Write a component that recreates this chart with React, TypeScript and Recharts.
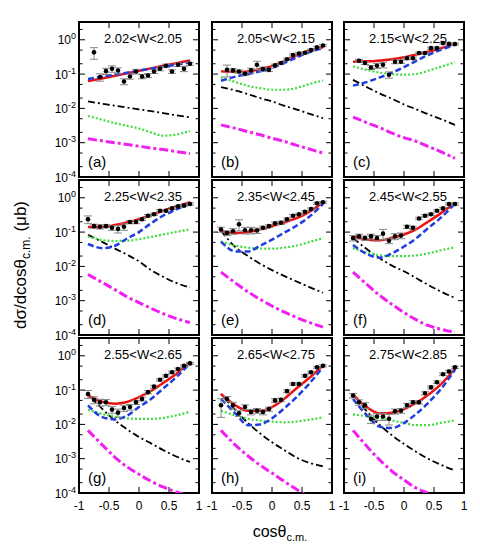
import React from 'react';
import { ComposedChart, Line, Scatter, ErrorBar, XAxis, YAxis, ReferenceArea } from 'recharts';

// ---------- shared axis values ----------
const curveX = [-0.85, -0.6, -0.4, -0.2, 0, 0.2, 0.4, 0.6, 0.85];
const pointX17 = [-0.75, -0.65, -0.55, -0.45, -0.35, -0.25, -0.15, -0.05, 0.05, 0.15, 0.25, 0.35, 0.45, 0.55, 0.65, 0.75, 0.85];
const pointX18 = [-0.85, -0.75, -0.65, -0.55, -0.45, -0.35, -0.25, -0.15, -0.05, 0.05, 0.15, 0.25, 0.35, 0.45, 0.55, 0.65, 0.75, 0.85];
const xTicks = [-1, -0.5, 0, 0.5, 1];
const xTickLabels = ['-1', '-0.5', '0', '0.5', '1'];
const yTicks = [1e-4, 2e-4, 5e-4, 1e-3, 2e-3, 5e-3, 1e-2, 2e-2, 5e-2, 0.1, 0.2, 0.5, 1, 2];
const yMajorExp = ['-4', '-3', '-2', '-1', '0'];
const wRanges = ['2.02<W<2.05', '2.05<W<2.15', '2.15<W<2.25', '2.25<W<2.35', '2.35<W<2.45', '2.45<W<2.55', '2.55<W<2.65', '2.65<W<2.75', '2.75<W<2.85'];
const panelLetters = ['(a)', '(b)', '(c)', '(d)', '(e)', '(f)', '(g)', '(h)', '(i)'];

// ---------- panel (a) ----------
const redA = [0.062, 0.076, 0.09, 0.106, 0.125, 0.147, 0.174, 0.205, 0.25];
const blueA = [0.072, 0.085, 0.097, 0.11, 0.126, 0.143, 0.162, 0.186, 0.22];
const greenA = [0.006, 0.0046, 0.0037, 0.0031, 0.0026, 0.002, 0.0016, 0.0017, 0.0022];
const blackA = [0.016, 0.0136, 0.012, 0.0106, 0.0093, 0.0083, 0.0073, 0.0064, 0.0055];
const magentaA = [0.0013, 0.00112, 0.001, 0.00089, 0.00079, 0.0007, 0.00063, 0.00056, 0.00048];
const dataA = [0.43, 0.082, 0.122, 0.143, 0.127, 0.061, 0.085, 0.119, 0.085, 0.091, 0.119, 0.143, 0.175, 0.119, 0.187, 0.143, 0.2];
const errA = [0.16, 0.02, 0.025, 0.03, 0.025, 0.012, 0.014, 0.018, 0.012, 0.012, 0.015, 0.018, 0.02, 0.014, 0.02, 0.025, 0.02];

// ---------- panel (b) ----------
const redB = [0.12, 0.115, 0.12, 0.14, 0.17, 0.24, 0.34, 0.47, 0.6];
const blueB = [0.064, 0.085, 0.1, 0.12, 0.15, 0.21, 0.3, 0.42, 0.57];
const greenB = [0.082, 0.058, 0.045, 0.039, 0.035, 0.035, 0.039, 0.05, 0.065];
const blackB = [0.042, 0.033, 0.026, 0.02, 0.016, 0.012, 0.0094, 0.0072, 0.0052];
const magentaB = [0.0033, 0.0026, 0.0021, 0.0017, 0.00135, 0.0011, 0.00085, 0.00067, 0.0005];
const dataB = [0.133, 0.128, 0.119, 0.102, 0.128, 0.187, 0.14, 0.133, 0.18, 0.21, 0.27, 0.36, 0.4, 0.42, 0.5, 0.6, 0.68];
const errB = [0.05, 0.015, 0.012, 0.012, 0.02, 0.05, 0.02, 0.015, 0.015, 0.015, 0.02, 0.025, 0.03, 0.03, 0.035, 0.04, 0.05];

// ---------- panel (c) ----------
const redC = [0.23, 0.235, 0.25, 0.27, 0.31, 0.37, 0.45, 0.56, 0.75];
const blueC = [0.046, 0.06, 0.08, 0.11, 0.16, 0.24, 0.36, 0.5, 0.71];
const greenC = [0.167, 0.13, 0.11, 0.1, 0.096, 0.1, 0.125, 0.16, 0.22];
const blackC = [0.068, 0.04, 0.027, 0.019, 0.013, 0.0095, 0.0068, 0.005, 0.0033];
const magentaC = [0.0056, 0.0037, 0.0027, 0.0019, 0.0014, 0.0011, 0.00078, 0.00056, 0.00035];
const dataC = [0.244, 0.21, 0.156, 0.175, 0.187, 0.096, 0.23, 0.23, 0.29, 0.29, 0.41, 0.41, 0.57, 0.57, 0.8, 0.76, 0.75];
const errC = [0.025, 0.02, 0.02, 0.03, 0.035, 0.02, 0.03, 0.025, 0.025, 0.025, 0.03, 0.03, 0.04, 0.04, 0.05, 0.05, 0.05];

// ---------- panel (d) ----------
const redD = [0.14, 0.14, 0.16, 0.19, 0.24, 0.31, 0.42, 0.54, 0.75];
const blueD = [0.045, 0.034, 0.04, 0.065, 0.1, 0.18, 0.3, 0.44, 0.68];
const greenD = [0.075, 0.058, 0.055, 0.056, 0.062, 0.072, 0.085, 0.1, 0.12];
const blackD = [0.084, 0.05, 0.033, 0.022, 0.014, 0.0078, 0.005, 0.0034, 0.0024];
const magentaD = [0.0058, 0.0033, 0.0021, 0.0013, 0.00088, 0.0006, 0.00042, 0.00031, 0.00023];
const dataD = [0.236, 0.149, 0.143, 0.149, 0.133, 0.124, 0.143, 0.196, 0.196, 0.236, 0.3, 0.33, 0.42, 0.42, 0.49, 0.56, 0.59, 0.66];
const errD = [0.06, 0.02, 0.02, 0.015, 0.02, 0.03, 0.03, 0.02, 0.02, 0.02, 0.025, 0.025, 0.03, 0.03, 0.035, 0.04, 0.04, 0.05];

// ---------- panel (e) ----------
const redE = [0.105, 0.094, 0.1, 0.12, 0.15, 0.19, 0.25, 0.37, 0.74];
const blueE = [0.053, 0.027, 0.027, 0.04, 0.06, 0.095, 0.15, 0.26, 0.66];
const greenE = [0.053, 0.04, 0.035, 0.033, 0.033, 0.035, 0.04, 0.05, 0.067];
const blackE = [0.11, 0.035, 0.02, 0.012, 0.0078, 0.0053, 0.0037, 0.0026, 0.0017];
const magentaE = [0.0068, 0.0032, 0.0018, 0.0011, 0.0007, 0.00047, 0.00033, 0.00024, 0.00017];
const dataE = [0.119, 0.094, 0.106, 0.168, 0.113, 0.113, 0.111, 0.133, 0.149, 0.18, 0.188, 0.236, 0.3, 0.33, 0.39, 0.47, 0.69, 0.74];
const errE = [0.02, 0.015, 0.02, 0.06, 0.025, 0.025, 0.02, 0.015, 0.015, 0.015, 0.02, 0.02, 0.025, 0.025, 0.03, 0.035, 0.05, 0.05];

// ---------- panel (f) ----------
const redF = [0.075, 0.06, 0.058, 0.068, 0.085, 0.12, 0.2, 0.34, 0.7];
const blueF = [0.042, 0.022, 0.018, 0.024, 0.038, 0.065, 0.13, 0.25, 0.68];
const greenF = [0.034, 0.025, 0.021, 0.02, 0.02, 0.021, 0.024, 0.029, 0.036];
const blackF = [0.067, 0.03, 0.017, 0.0105, 0.0072, 0.0046, 0.0029, 0.0019, 0.0012];
const magentaF = [0.0068, 0.0028, 0.0014, 0.00078, 0.00045, 0.00028, 0.00019, 0.00015, 0.00012];
const dataF = [0.067, 0.075, 0.067, 0.075, 0.067, 0.09, 0.056, 0.075, 0.079, 0.143, 0.133, 0.25, 0.3, 0.33, 0.42, 0.49, 0.66, 0.66];
const errF = [0.012, 0.012, 0.01, 0.012, 0.012, 0.03, 0.01, 0.015, 0.015, 0.015, 0.015, 0.02, 0.025, 0.025, 0.03, 0.035, 0.05, 0.05];

// ---------- panel (g) ----------
const redG = [0.069, 0.045, 0.04, 0.045, 0.062, 0.095, 0.16, 0.28, 0.66];
const blueG = [0.036, 0.016, 0.014, 0.018, 0.032, 0.055, 0.11, 0.22, 0.6];
const greenG = [0.027, 0.02, 0.017, 0.015, 0.0145, 0.0145, 0.0155, 0.018, 0.023];
const blackG = [0.078, 0.027, 0.013, 0.0072, 0.0043, 0.0028, 0.0018, 0.0012, 0.0008];
const magentaG = [0.0067, 0.0024, 0.0011, 0.00058, 0.00035, 0.00022, 0.00015, 0.00011, 0.00008];
const dataG = [0.077, 0.052, 0.044, 0.044, 0.027, 0.022, 0.03, 0.032, 0.044, 0.055, 0.087, 0.126, 0.2, 0.26, 0.33, 0.41, 0.51, 0.6];
const errG = [0.02, 0.012, 0.01, 0.009, 0.006, 0.006, 0.006, 0.006, 0.006, 0.007, 0.009, 0.012, 0.015, 0.02, 0.025, 0.03, 0.035, 0.04];

// ---------- panel (h) ----------
const redH = [0.077, 0.035, 0.025, 0.025, 0.032, 0.055, 0.11, 0.21, 0.52];
const blueH = [0.055, 0.02, 0.0095, 0.01, 0.015, 0.029, 0.06, 0.14, 0.47];
const greenH = [0.025, 0.018, 0.0145, 0.013, 0.012, 0.0115, 0.012, 0.0135, 0.016];
const blackH = [0.077, 0.025, 0.011, 0.0055, 0.003, 0.0018, 0.0011, 0.00078, 0.0006];
const magentaH = [0.0067, 0.0024, 0.0012, 0.00065, 0.00038, 0.00022, 0.00013, 0.00008, 0.00005];
const dataH = [0.036, 0.055, 0.036, 0.021, 0.032, 0.023, 0.025, 0.023, 0.028, 0.05, 0.052, 0.093, 0.15, 0.15, 0.26, 0.33, 0.46, 0.51];
const errH = [0.02, 0.01, 0.008, 0.004, 0.005, 0.004, 0.004, 0.004, 0.004, 0.006, 0.006, 0.009, 0.012, 0.012, 0.02, 0.025, 0.03, 0.035];

// ---------- panel (i) ----------
const redI = [0.074, 0.03, 0.021, 0.022, 0.028, 0.042, 0.072, 0.14, 0.42];
const blueI = [0.055, 0.017, 0.0085, 0.0078, 0.011, 0.02, 0.042, 0.1, 0.39];
const greenI = [0.0195, 0.017, 0.015, 0.013, 0.011, 0.0095, 0.0095, 0.011, 0.013];
const blackI = [0.077, 0.022, 0.0095, 0.0048, 0.0027, 0.0016, 0.001, 0.00068, 0.00045];
const magentaI = [0.0067, 0.0021, 0.0009, 0.00043, 0.00024, 0.00014, 0.0001, 0.00007, 0.00005];
const dataI = [0.069, 0.044, 0.036, 0.0146, 0.017, 0.017, 0.0146, 0.024, 0.025, 0.036, 0.044, 0.044, 0.081, 0.12, 0.17, 0.29, 0.35, 0.46];
const errI = [0.01, 0.008, 0.007, 0.004, 0.004, 0.004, 0.005, 0.004, 0.004, 0.005, 0.005, 0.005, 0.008, 0.012, 0.015, 0.025, 0.03, 0.035];

const panels = [
  { red: redA, blue: blueA, green: greenA, black: blackA, magenta: magentaA, px: pointX17, data: dataA, err: errA },
  { red: redB, blue: blueB, green: greenB, black: blackB, magenta: magentaB, px: pointX17, data: dataB, err: errB },
  { red: redC, blue: blueC, green: greenC, black: blackC, magenta: magentaC, px: pointX17, data: dataC, err: errC },
  { red: redD, blue: blueD, green: greenD, black: blackD, magenta: magentaD, px: pointX18, data: dataD, err: errD },
  { red: redE, blue: blueE, green: greenE, black: blackE, magenta: magentaE, px: pointX18, data: dataE, err: errE },
  { red: redF, blue: blueF, green: greenF, black: blackF, magenta: magentaF, px: pointX18, data: dataF, err: errF },
  { red: redG, blue: blueG, green: greenG, black: blackG, magenta: magentaG, px: pointX18, data: dataG, err: errG },
  { red: redH, blue: blueH, green: greenH, black: blackH, magenta: magentaH, px: pointX18, data: dataH, err: errH },
  { red: redI, blue: blueI, green: greenI, black: blackI, magenta: magentaI, px: pointX18, data: dataI, err: errI },
];

// ---------- layout ----------
const FONT = '"Liberation Sans", Arial, Helvetica, sans-serif';
const YMAX = 3.3;
const COL_X = [79, 212, 344];
const ROW_Y = [22, 180, 338];
const PW = 120;
const PH = 155;
const LW = 50;
const BH = 30;
const PAD = 4;

const YTick = (props: any) => {
  const { x, y, payload, showLabel } = props;
  const v = payload.value;
  const lg = Math.log10(v);
  const major = Math.abs(lg - Math.round(lg)) < 1e-6;
  const len = major ? 6 : 3.5;
  const idx = major ? Math.round(lg) + 4 : -1;
  return (
    <g>
      <line x1={x} x2={x + len} y1={y} y2={y} stroke="#000" strokeWidth={1} />
      <line x1={x + PW} x2={x + PW - len} y1={y} y2={y} stroke="#000" strokeWidth={1} />
      {showLabel && major && (
        <text x={x - 3} y={y + 4.5} textAnchor="end" fontSize={12} fontFamily={FONT} fill="#000">
          10<tspan dy={-5} fontSize={9}>{yMajorExp[idx]}</tspan>
        </text>
      )}
    </g>
  );
};

const XTick = (props: any) => {
  const { x, y, payload, showLabel } = props;
  const v = payload.value;
  const edge = Math.abs(Math.abs(v) - 1) < 1e-6;
  const i = xTicks.indexOf(v);
  return (
    <g>
      {!edge && <line x1={x} x2={x} y1={y} y2={y - 6} stroke="#000" strokeWidth={1} />}
      {!edge && <line x1={x} x2={x} y1={y - PH} y2={y - PH + 6} stroke="#000" strokeWidth={1} />}
      {showLabel && (
        <text x={x} y={y + 17} textAnchor="middle" fontSize={12} fontFamily={FONT} fill="#000">
          {xTickLabels[i]}
        </text>
      )}
    </g>
  );
};

const Dot = (props: any) => <circle cx={props.cx} cy={props.cy} r={2.3} fill="#000" />;

function Panel({ idx }: { idx: number }) {
  const p = panels[idx];
  const col = idx % 3;
  const row = Math.floor(idx / 3);
  const curves = curveX.map((x, i) => ({
    x,
    red: p.red[i],
    blue: p.blue[i],
    green: p.green[i],
    black: p.black[i],
    magenta: p.magenta[i],
  }));
  const pts = p.px.map((x, i) => ({ x, y: p.data[i], err: p.err[i] }));
  return (
    <div style={{ position: 'absolute', left: COL_X[col] - LW, top: ROW_Y[row] - PAD }}>
      <ComposedChart
        width={LW + PW + PAD}
        height={PAD + PH + BH}
        data={curves}
        margin={{ top: PAD, right: PAD, bottom: 0, left: 0 }}
      >
        <XAxis
          dataKey="x"
          type="number"
          domain={[-1, 1]}
          ticks={xTicks}
          interval={0}
          height={BH}
          tickSize={0}
          tickMargin={0}
          axisLine={false}
          tickLine={false}
          allowDataOverflow
          tick={(tp: any) => <XTick {...tp} showLabel={row === 2} />}
        />
        <YAxis
          type="number"
          scale="log"
          domain={[1e-4, YMAX]}
          ticks={yTicks}
          interval={0}
          width={LW}
          tickSize={0}
          tickMargin={0}
          axisLine={false}
          tickLine={false}
          allowDataOverflow
          tick={(tp: any) => <YTick {...tp} showLabel={col === 0} />}
        />
        <Line dataKey="magenta" type="monotone" stroke="#f01ef0" strokeWidth={3} strokeDasharray="9 3 3 3" dot={false} isAnimationActive={false} />
        <Line dataKey="black" type="monotone" stroke="#000" strokeWidth={1.8} strokeDasharray="7 3 2 3" dot={false} isAnimationActive={false} />
        <Line dataKey="green" type="monotone" stroke="#3ddc3d" strokeWidth={2.2} strokeDasharray="2 2" dot={false} isAnimationActive={false} />
        <Line dataKey="red" type="monotone" stroke="#ee1111" strokeWidth={2.5} dot={false} isAnimationActive={false} />
        <Line dataKey="blue" type="monotone" stroke="#1f3de0" strokeWidth={2.5} strokeDasharray="6 3" dot={false} isAnimationActive={false} />
        <Scatter data={pts} dataKey="y" shape={Dot} isAnimationActive={false}>
          <ErrorBar dataKey="err" direction="y" width={4} stroke="#888" strokeWidth={1} isAnimationActive={false} />
        </Scatter>
        <ReferenceArea x1={-1} x2={1} y1={1e-4} y2={YMAX} fill="none" stroke="#000" strokeWidth={2} ifOverflow="visible" />
      </ComposedChart>
    </div>
  );
}

export default function App() {
  return (
    <div style={{ position: 'absolute', left: 0, top: 0, width: 480, height: 560, background: '#fff', overflow: 'hidden' }}>
      {panels.map((_, i) => (
        <Panel key={i} idx={i} />
      ))}
      <svg width={480} height={560} style={{ position: 'absolute', left: 0, top: 0, pointerEvents: 'none' }}>
        {panels.map((_, i) => {
          const col = i % 3;
          const row = Math.floor(i / 3);
          return (
            <g key={i}>
              <text x={COL_X[col] + 25} y={ROW_Y[row] + 21} fontSize={13} fontFamily={FONT} fill="#000">
                {wRanges[i]}
              </text>
              <text x={COL_X[col] + 9} y={ROW_Y[row] + PH - 10} fontSize={15} fontFamily={FONT} fill="#000">
                {panelLetters[i]}
              </text>
            </g>
          );
        })}
        <text x={280} y={537} textAnchor="middle" fontSize={16} fontFamily={FONT} fill="#000">
          cosθ<tspan dy={4} fontSize={11}>c.m.</tspan>
        </text>
        <text
          x={26}
          y={265}
          textAnchor="middle"
          fontSize={17}
          fontFamily={FONT}
          fill="#000"
          transform="rotate(-90 26 265)"
        >
          dσ/dcosθ<tspan dy={4} fontSize={12}>c.m.</tspan>
          <tspan dy={-4}>{'  (μb)'}</tspan>
        </text>
      </svg>
    </div>
  );
}
